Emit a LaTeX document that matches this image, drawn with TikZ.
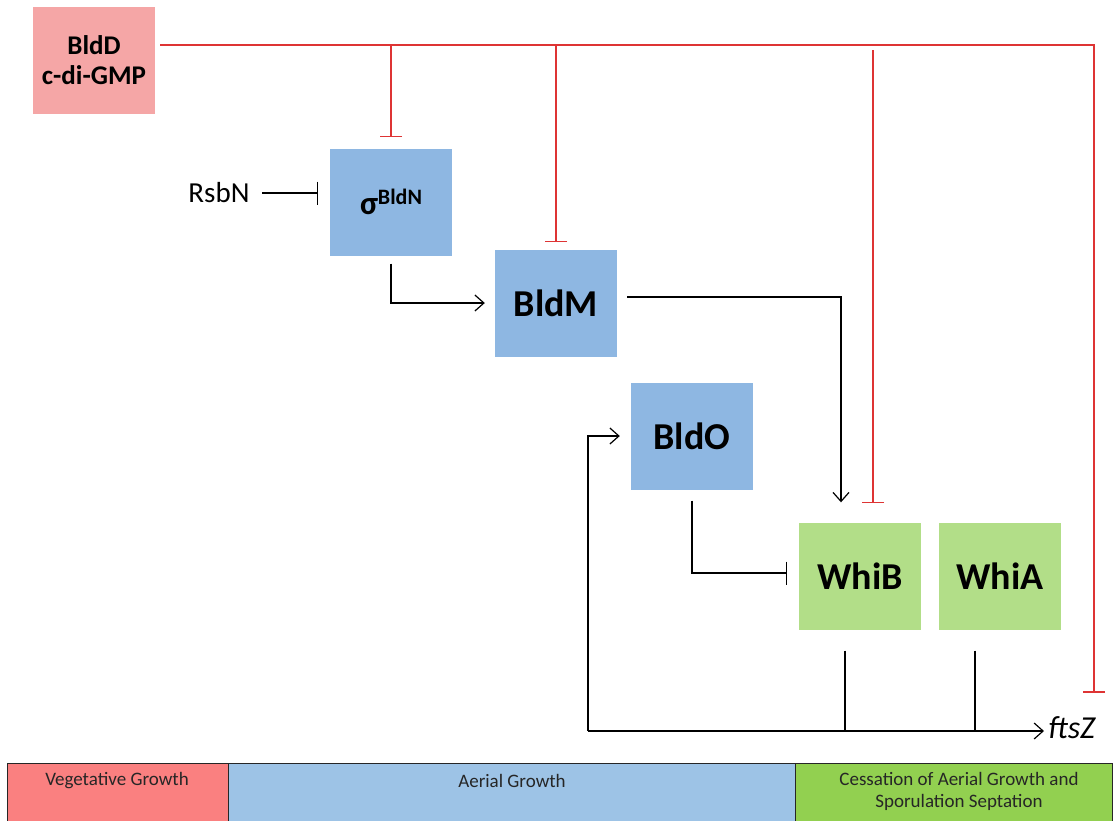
\documentclass[tikz,border=0pt]{standalone}
\usepackage{fontspec}
\setmainfont{Carlito}
\usepackage{tikz}
\usetikzlibrary{arrows.meta}
\usepackage{xcolor}
\definecolor{boxred}{RGB}{245,166,166}
\definecolor{boxblue}{RGB}{142,183,226}
\definecolor{boxgreen}{RGB}{178,222,136}
\definecolor{stagered}{RGB}{250,128,128}
\definecolor{stageblue}{RGB}{157,195,230}
\definecolor{stagegreen}{RGB}{146,208,80}
\definecolor{inhred}{RGB}{222,52,52}

\begin{document}
\begin{tikzpicture}[x=1pt,y=-1pt,
  gene/.style={minimum width=122pt, minimum height=107pt, inner sep=0pt,
    font=\bfseries\fontsize{38}{40}\selectfont},
  link/.style={draw=black, line width=1.2pt},
  act/.style={link, -{Straight Barb[length=9pt,width=16pt]}},
  blockbar/.style={link, -{Bar[width=23pt,line width=1.3pt]}},
  repress/.style={draw=inhred, line width=1.3pt, -{Bar[width=22pt,line width=1.6pt]}},
  stage/.style={draw=black!85, line width=1pt},
  stagetxt/.style={font=\fontsize{19}{22}\selectfont, align=center, text=black!85}]
\useasboundingbox (0,0) rectangle (1114,820);

% developmental stages
\filldraw[stage, fill=stagered] (7,763) rectangle (228,830);
\filldraw[stage, fill=stageblue] (228,763) rectangle (795,830);
\filldraw[stage, fill=stagegreen] (795,763) rectangle (1112,830);
\node[stagetxt] (veg) at (117,781) {Vegetative Growth};
\node[stagetxt] (aer) at (512,781) {Aerial Growth};
\node[stagetxt, anchor=north] (ces) at (959,769) {Cessation of Aerial Growth and\\Sporulation Septation};

% regulators
\node[gene, fill=boxred, align=center, font=\bfseries\fontsize{27}{30}\selectfont] (bldd) at (94,60) {BldD\\c-di-GMP};
\node[gene, fill=boxblue] (sigma) at (391,202)
  {{\fontsize{33}{33}\selectfont σ}\raisebox{10pt}{\fontsize{22}{22}\selectfont BldN}};
\node[gene, fill=boxblue] (bldm) at (556,303) {BldM};
\node[gene, fill=boxblue] (bldo) at (692,436) {BldO};
\node[gene, fill=boxgreen] (whib) at (860,576) {WhiB};
\node[gene, fill=boxgreen] (whia) at (1000,576) {WhiA};
\node[font=\fontsize{29}{30}\selectfont] (rsbn) at (219,193) {RsbN};
\node[font=\itshape\fontsize{32}{34}\selectfont, anchor=west, inner sep=1pt] (ftsz) at (1047,728) {ftsZ};

\coordinate (rtop) at (1094,45);
\coordinate (rend) at (1094,693);
\coordinate (hub) at (588,731);

% BldD repression
\draw[repress] ([xshift=5pt]bldd.east |- rtop) -- (rtop) -- (rend);
\draw[repress] (sigma.north |- rtop) -- ([yshift=11pt]sigma.north);
\draw[repress] (bldm.north |- rtop) -- ([yshift=7pt]bldm.north);
\draw[repress, shorten <=5pt] ([xshift=13pt]whib.north |- rtop) -- ([xshift=13pt,yshift=19pt]whib.north);

% cascade
\draw[blockbar, shorten <=9pt, shorten >=12pt] (rsbn.east) -- (sigma.west |- rsbn.east);
\draw[act] ([yshift=-8pt]sigma.south) |- ([xshift=-10pt]bldm.west);
\draw[act] ([xshift=10pt,yshift=6pt]bldm.east) -| ([xshift=-19pt,yshift=20pt]whib.north);
\draw[blockbar] ([yshift=-11pt]bldo.south) |- ([xshift=-12pt,yshift=3pt]whib.west);
\draw[link] ([xshift=-15pt,yshift=-21pt]whib.south) -- ([xshift=-15pt]whib.south |- hub);
\draw[link] ([xshift=-25pt,yshift=-21pt]whia.south) -- ([xshift=-25pt]whia.south |- hub);
\draw[act, shorten >=3pt] (hub) -- (hub -| ftsz.west);
\draw[act] (hub) |- ([xshift=-11pt]bldo.west);
\end{tikzpicture}
\end{document}
